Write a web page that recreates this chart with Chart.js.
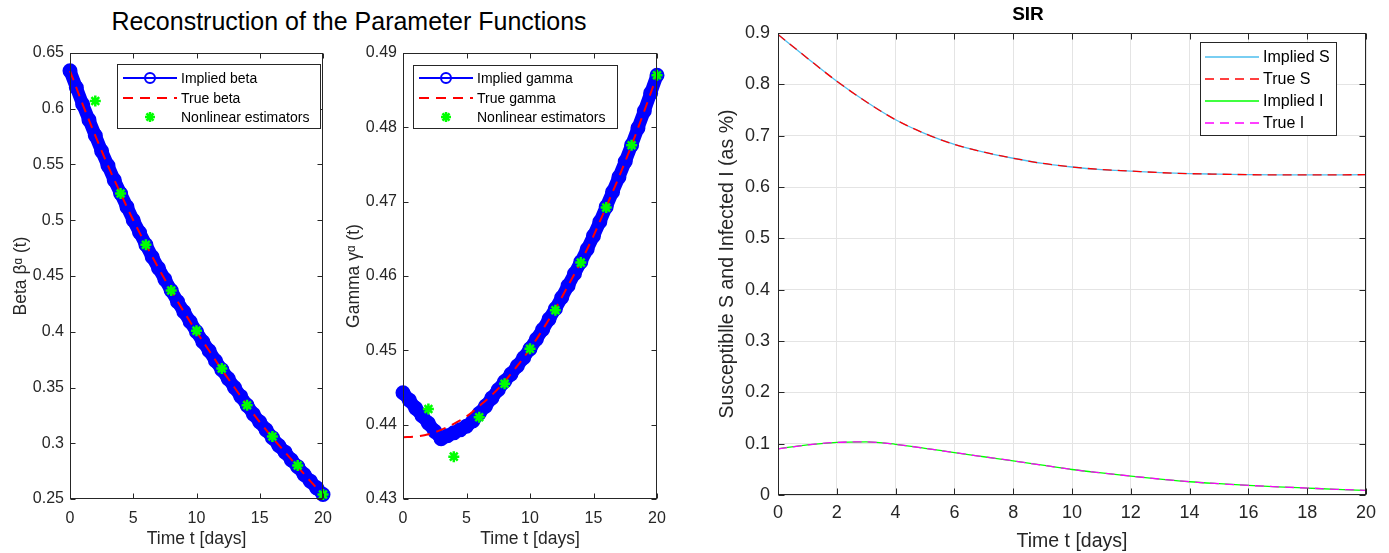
<!DOCTYPE html>
<html>
<head>
<meta charset="utf-8">
<script src="https://cdn.jsdelivr.net/npm/chart.js@4.4.0/dist/chart.umd.min.js"></script>
<style>
  body { margin: 0; background: #fff; width: 1389px; height: 553px; position: relative; overflow: hidden; }
  .panel { position: absolute; top: 0; }
  #suptitle { position: absolute; left: 0; width: 698px; top: 8px; line-height: 26px; text-align: center;
              font-family: 'Liberation Sans', Arial, sans-serif; font-size: 25px; color: #000; }
</style>
</head>
<body>
<div id="suptitle">Reconstruction of the Parameter Functions</div>
<div class="panel" style="left:0"><canvas id="betaChart" width="345" height="553"></canvas></div>
<div class="panel" style="left:335px"><canvas id="gammaChart" width="345" height="553"></canvas></div>
<div class="panel" style="left:690px"><canvas id="sirChart" width="699" height="553"></canvas></div>
<script>
// time grids
const tDays = [0, 1, 2, 3, 4, 5, 6, 7, 8, 9, 10, 11, 12, 13, 14, 15, 16, 17, 18, 19, 20];
const tHalf = [0, 0.5, 1, 1.5, 2, 2.5, 3, 3.5, 4, 4.5, 5, 5.5, 6, 6.5, 7, 7.5, 8, 8.5, 9, 9.5, 10,
               10.5, 11, 11.5, 12, 12.5, 13, 13.5, 14, 14.5, 15, 15.5, 16, 16.5, 17, 17.5, 18, 18.5, 19, 19.5, 20];
const tEst = [2, 4, 6, 8, 10, 12, 14, 16, 18, 20];

// beta
const betaImplied = [0.634, 0.619, 0.604, 0.590, 0.576, 0.562, 0.549, 0.536, 0.524, 0.512, 0.500,
                     0.489, 0.478, 0.467, 0.457, 0.447, 0.437, 0.427, 0.418, 0.409, 0.400,
                     0.391, 0.383, 0.374, 0.366, 0.358, 0.350, 0.342, 0.334, 0.326, 0.319,
                     0.312, 0.305, 0.298, 0.292, 0.285, 0.279, 0.272, 0.266, 0.260, 0.254];
const betaTrue = [0.634, 0.604, 0.576, 0.549, 0.524, 0.500, 0.478, 0.457, 0.437, 0.418, 0.400,
                  0.383, 0.366, 0.350, 0.334, 0.319, 0.305, 0.292, 0.279, 0.266, 0.254];
const betaEst = [0.607, 0.524, 0.478, 0.437, 0.401, 0.367, 0.334, 0.306, 0.280, 0.254];

// gamma
const gammaImplied = [0.4443, 0.4433, 0.4422, 0.4412, 0.4402, 0.4391, 0.4381, 0.4385, 0.4389, 0.4393, 0.4398,
                      0.4405, 0.4415, 0.4425, 0.4436, 0.4447, 0.4458, 0.4468, 0.4479, 0.4490, 0.4502,
                      0.4515, 0.4528, 0.4542, 0.4556, 0.4571, 0.4587, 0.4603, 0.4619, 0.4636, 0.4654,
                      0.4673, 0.4693, 0.4713, 0.4733, 0.4754, 0.4776, 0.4799, 0.4822, 0.4846, 0.4870];
const gammaTrue = [0.4383, 0.4384, 0.4387, 0.4393, 0.4401, 0.4411, 0.4425, 0.4440, 0.4458, 0.4479, 0.4502,
                   0.4528, 0.4556, 0.4587, 0.4619, 0.4654, 0.4693, 0.4733, 0.4776, 0.4822, 0.4870];
const gammaEst = [0.4421, 0.4357, 0.4410, 0.4455, 0.4502, 0.4554, 0.4618, 0.4692, 0.4776, 0.4870];

// SIR
const sImplied = [0.897, 0.851, 0.806, 0.766, 0.731, 0.704, 0.683, 0.668, 0.656, 0.646, 0.639,
                  0.634, 0.631, 0.628, 0.626, 0.625, 0.624, 0.6235, 0.6235, 0.6237, 0.624];
const sTrue = [0.897, 0.851, 0.806, 0.766, 0.731, 0.704, 0.683, 0.668, 0.656, 0.646, 0.639,
               0.634, 0.631, 0.628, 0.626, 0.625, 0.624, 0.6235, 0.6235, 0.6237, 0.624];
const iImplied = [0.090, 0.0975, 0.1025, 0.1035, 0.0987, 0.091, 0.0826, 0.0745, 0.0665, 0.058, 0.0497,
                  0.043, 0.0368, 0.031, 0.0258, 0.022, 0.0187, 0.016, 0.0135, 0.011, 0.009];
const iTrue = [0.090, 0.0975, 0.1025, 0.1035, 0.0987, 0.091, 0.0826, 0.0745, 0.0665, 0.058, 0.0497,
               0.043, 0.0368, 0.031, 0.0258, 0.022, 0.0187, 0.016, 0.0135, 0.011, 0.009];

// tick values
const xTicksParam = [0, 5, 10, 15, 20];
const betaTicks = [0.25, 0.3, 0.35, 0.4, 0.45, 0.5, 0.55, 0.6, 0.65];
const gammaTicks = [0.43, 0.44, 0.45, 0.46, 0.47, 0.48, 0.49];
const xTicksSir = [0, 2, 4, 6, 8, 10, 12, 14, 16, 18, 20];
const sirTicks = [0, 0.1, 0.2, 0.3, 0.4, 0.5, 0.6, 0.7, 0.8, 0.9];

const FONT = "'Liberation Sans', Arial, sans-serif";
const AXIS = '#262626';
Chart.defaults.font.family = FONT;
Chart.defaults.color = AXIS;

const pts = (xs, ys) => xs.map((x, i) => ({ x, y: ys[i] }));
const fmt = v => String(Math.round(v * 1000) / 1000);
const useTicks = list => scale => { scale.ticks = list.map(v => ({ value: v })); };

// box around the axes with inward ticks on every side
const framePlugin = (tickLen) => ({
    id: 'frame',
    afterDatasetsDraw(chart) {
        const { ctx, chartArea: a, scales: { x, y } } = chart;
        const L = Math.round(a.left) + 0.5, R = Math.round(a.right) - 0.5;
        const T = Math.round(a.top) + 0.5, B = Math.round(a.bottom) - 0.5;
        ctx.save();
        ctx.strokeStyle = AXIS;
        ctx.lineWidth = 1;
        ctx.setLineDash([]);
        ctx.strokeRect(L, T, R - L, B - T);
        ctx.beginPath();
        for (const t of x.ticks) {
            const px = Math.round(x.getPixelForValue(t.value)) + 0.5;
            ctx.moveTo(px, B); ctx.lineTo(px, B - tickLen);
            ctx.moveTo(px, T); ctx.lineTo(px, T + tickLen);
        }
        for (const t of y.ticks) {
            const py = Math.round(y.getPixelForValue(t.value)) + 0.5;
            ctx.moveTo(L, py); ctx.lineTo(L + tickLen, py);
            ctx.moveTo(R, py); ctx.lineTo(R - tickLen, py);
        }
        ctx.stroke();
        ctx.restore();
    }
});

// MATLAB style legend box inside the axes
const legendPlugin = (cfg) => ({
    id: 'boxLegend',
    afterDraw(chart) {
        const ctx = chart.ctx;
        ctx.save();
        ctx.fillStyle = '#fff';
        ctx.fillRect(cfg.left, cfg.top, cfg.width, cfg.height);
        ctx.strokeStyle = AXIS;
        ctx.lineWidth = 1;
        ctx.strokeRect(cfg.left + 0.5, cfg.top + 0.5, cfg.width, cfg.height);
        ctx.font = cfg.fontSize + 'px ' + FONT;
        ctx.textBaseline = 'middle';
        cfg.items.forEach((it, k) => {
            const y = cfg.rows[k];
            const mx = (cfg.x0 + cfg.x1) / 2;
            if (it.line) {
                ctx.strokeStyle = it.color;
                ctx.lineWidth = it.width;
                ctx.setLineDash(it.dash || []);
                ctx.beginPath();
                ctx.moveTo(cfg.x0, y); ctx.lineTo(cfg.x1, y);
                ctx.stroke();
                ctx.setLineDash([]);
            }
            if (it.marker === 'circle') {
                ctx.strokeStyle = it.color;
                ctx.lineWidth = 2;
                ctx.beginPath();
                ctx.arc(mx, y, 5, 0, Math.PI * 2);
                ctx.stroke();
            } else if (it.marker === 'star') {
                ctx.strokeStyle = it.color;
                ctx.lineWidth = 2.5;
                ctx.beginPath();
                const r = 5;
                for (let k2 = 0; k2 < 4; k2++) {
                    const ang = k2 * Math.PI / 4;
                    ctx.moveTo(mx - r * Math.cos(ang), y - r * Math.sin(ang));
                    ctx.lineTo(mx + r * Math.cos(ang), y + r * Math.sin(ang));
                }
                ctx.stroke();
            }
            ctx.fillStyle = '#000';
            ctx.fillText(it.label, cfg.textX, y + 1);
        });
        ctx.restore();
    }
});

const paramChart = (id, opt) => new Chart(document.getElementById(id), {
    type: 'line',
    data: {
        datasets: [
            {
                label: 'Nonlinear estimators',
                data: pts(tEst, opt.est),
                showLine: false,
                pointStyle: 'star',
                pointRadius: 5.5,
                pointBorderWidth: 2.5,
                pointBorderColor: '#00ff00',
                pointBackgroundColor: '#00ff00',
                clip: false,
                order: 0
            },
            {
                label: opt.trueLabel,
                data: pts(tDays, opt.truth),
                borderColor: '#ff0000',
                borderWidth: 2,
                borderDash: [10, 7],
                pointRadius: 0,
                cubicInterpolationMode: 'monotone',
                clip: false,
                order: 1
            },
            {
                // dense circle markers merge into a thick band
                label: opt.impliedLabel,
                data: pts(tHalf, opt.implied),
                borderColor: '#0000ff',
                borderWidth: 13,
                borderCapStyle: 'round',
                borderJoinStyle: 'round',
                pointStyle: 'circle',
                pointRadius: 6.5,
                pointBorderWidth: 2,
                pointBorderColor: '#0000ff',
                pointBackgroundColor: 'rgba(0,0,0,0)',
                tension: 0,
                clip: false,
                order: 2
            }
        ]
    },
    options: {
        responsive: false,
        animation: false,
        events: [],
        layout: { padding: { left: 0, right: opt.padRight, top: 53, bottom: 0 } },
        plugins: { legend: { display: false }, tooltip: { enabled: false } },
        scales: {
            x: {
                type: 'linear', min: 0, max: 20,
                afterBuildTicks: useTicks(xTicksParam),
                afterFit: s => { s.height = 54; },
                grid: { display: false, drawTicks: false },
                border: { display: false },
                ticks: { font: { size: 16 }, padding: 10, maxRotation: 0, callback: fmt },
                title: { display: true, text: 'Time t [days]', font: { size: 17.5, lineHeight: 1 }, padding: { top: 0, bottom: 5 } }
            },
            y: {
                type: 'linear', min: opt.min, max: opt.max,
                afterBuildTicks: useTicks(opt.ticks),
                afterFit: s => { s.width = opt.yWidth; },
                grid: { display: false, drawTicks: false },
                border: { display: false },
                ticks: { font: { size: 16 }, padding: 6, callback: fmt },
                title: { display: true, text: opt.yTitle, font: { size: 17.5, lineHeight: 1 }, padding: { top: opt.yTitlePad, bottom: 0 } }
            }
        }
    },
    plugins: [framePlugin(5), legendPlugin(opt.legend)]
});

paramChart('betaChart', {
    implied: betaImplied, truth: betaTrue, est: betaEst,
    impliedLabel: 'Implied beta', trueLabel: 'True beta',
    min: 0.25, max: 0.65, ticks: betaTicks,
    yWidth: 70, padRight: 22, yTitle: 'Beta \u03b2\u1d45 (t)', yTitlePad: 12,
    legend: {
        left: 117, top: 64, width: 203, height: 64, fontSize: 14,
        x0: 123, x1: 177, textX: 181, rows: [78, 98, 117],
        items: [
            { label: 'Implied beta', color: '#0000ff', line: true, width: 2, marker: 'circle' },
            { label: 'True beta', color: '#ff0000', line: true, width: 2, dash: [10, 7] },
            { label: 'Nonlinear estimators', color: '#00ff00', line: false, marker: 'star' }
        ]
    }
});

paramChart('gammaChart', {
    implied: gammaImplied, truth: gammaTrue, est: gammaEst,
    impliedLabel: 'Implied gamma', trueLabel: 'True gamma',
    min: 0.43, max: 0.49, ticks: gammaTicks,
    yWidth: 68, padRight: 23, yTitle: 'Gamma \u03b3\u1d45 (t)', yTitlePad: 10,
    legend: {
        left: 78, top: 65, width: 204, height: 63, fontSize: 14,
        x0: 84, x1: 138, textX: 142, rows: [78, 98, 117],
        items: [
            { label: 'Implied gamma', color: '#0000ff', line: true, width: 2, marker: 'circle' },
            { label: 'True gamma', color: '#ff0000', line: true, width: 2, dash: [10, 7] },
            { label: 'Nonlinear estimators', color: '#00ff00', line: false, marker: 'star' }
        ]
    }
});

new Chart(document.getElementById('sirChart'), {
    type: 'line',
    data: {
        datasets: [
            { label: 'True S', data: pts(tDays, sTrue), borderColor: '#ff0000', borderWidth: 1.3, borderDash: [9, 6],
              pointRadius: 0, cubicInterpolationMode: 'monotone', order: 1 },
            { label: 'Implied S', data: pts(tDays, sImplied), borderColor: '#4dbeee', borderWidth: 1.3,
              pointRadius: 0, cubicInterpolationMode: 'monotone', order: 2 },
            { label: 'True I', data: pts(tDays, iTrue), borderColor: '#ff00ff', borderWidth: 1.3, borderDash: [9, 6],
              pointRadius: 0, cubicInterpolationMode: 'monotone', order: 1 },
            { label: 'Implied I', data: pts(tDays, iImplied), borderColor: '#00ff00', borderWidth: 1.3,
              pointRadius: 0, cubicInterpolationMode: 'monotone', order: 2 }
        ]
    },
    options: {
        responsive: false,
        animation: false,
        events: [],
        layout: { padding: { left: 0, right: 23, top: 0, bottom: 0 } },
        plugins: {
            legend: { display: false },
            tooltip: { enabled: false },
            title: { display: true, text: 'SIR', color: '#000', font: { size: 19, weight: 'bold', lineHeight: 1 },
                     padding: { top: 5, bottom: 9 } }
        },
        scales: {
            x: {
                type: 'linear', min: 0, max: 20,
                afterBuildTicks: useTicks(xTicksSir),
                afterFit: s => { s.height = 58; },
                grid: { color: '#e4e4e4', drawTicks: false },
                border: { display: false },
                ticks: { font: { size: 18 }, padding: 7, maxRotation: 0, callback: fmt },
                title: { display: true, text: 'Time t [days]', font: { size: 19.5, lineHeight: 1 }, padding: { top: 0, bottom: 2 } }
            },
            y: {
                type: 'linear', min: 0, max: 0.9,
                afterBuildTicks: useTicks(sirTicks),
                afterFit: s => { s.width = 88; },
                grid: { color: '#e4e4e4', drawTicks: false },
                border: { display: false },
                ticks: { font: { size: 18 }, padding: 8, callback: fmt },
                title: { display: true, text: 'Susceptiblle S and Infected I (as %)', font: { size: 19.5, lineHeight: 1 },
                         padding: { top: 28, bottom: 0 } }
            }
        }
    },
    plugins: [framePlugin(6), legendPlugin({
        left: 510, top: 42, width: 136, height: 93, fontSize: 16,
        x0: 515, x1: 569, textX: 573, rows: [57, 79, 101, 123],
        items: [
            { label: 'Implied S', color: '#4dbeee', line: true, width: 1.3 },
            { label: 'True S', color: '#ff0000', line: true, width: 1.3, dash: [9, 6] },
            { label: 'Implied I', color: '#00ff00', line: true, width: 1.3 },
            { label: 'True I', color: '#ff00ff', line: true, width: 1.3, dash: [9, 6] }
        ]
    })]
});
</script>
</body>
</html>
